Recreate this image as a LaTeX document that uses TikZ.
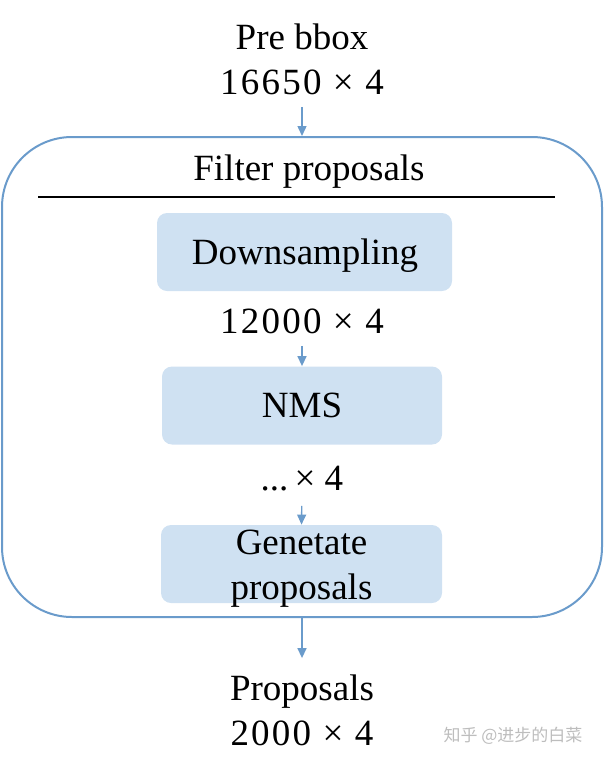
\documentclass[tikz,border=0pt]{standalone}
\usepackage{fontspec}
\setmainfont{Liberation Serif}
\newfontfamily\numfont[LetterSpace=6]{Liberation Serif}
\newfontfamily\cjkfont{Noto Sans CJK SC}
\usetikzlibrary{arrows.meta, positioning}
\definecolor{fpblue}{HTML}{6A9BCB}
\definecolor{fplight}{HTML}{CFE1F2}
\definecolor{fpmark}{HTML}{BDBDBD}

\begin{document}
\begin{tikzpicture}[x=0.5pt, y=-0.5pt,
  every node/.style={font=\fontsize{18.5}{22.5}\selectfont, inner sep=0pt, align=center},
  sizelabel/.style={font=\numfont\fontsize{18.5}{22.5}\selectfont},
  stepbox/.style={fill=fplight, rounded corners=5pt, minimum height=39pt},
  flow/.style={-{Triangle[width=4.5pt,length=5pt]}, fpblue, line width=0.7pt}]
  \useasboundingbox (0,0) rectangle (604,761);
  % input
  \node (pre) at (302,59) {Pre bbox\\{\numfont 16650 × 4}};
  % filter block
  \node[draw=fpblue, line width=1pt, rounded corners=35pt, minimum width=300pt, minimum height=240pt] (filter) at (302,377) {};
  \node (title) at (309,172) {Filter proposals};
  \draw[line width=0.6pt] (38,197) -- (555,197);
  % steps
  \node[stepbox, minimum width=147.5pt] (down) at (304.5,252) {};
  \node (downtext) at (305,256) {Downsampling};
  \node[sizelabel] (n1) at (302,321) {12000 × 4};
  \node[stepbox, minimum width=140pt] (nms) at (302,405.5) {NMS};
  \node (n2) at (302,479) {...\,× 4};
  \node[stepbox, minimum width=140.5pt] (gen) at (301.5,564) {};
  \node (gentext) at (301.5,569) {Genetate\\proposals};
  % output
  \node (prop) at (302,710) {Proposals\\{\numfont 2000 × 4}};
  % arrows
  \draw[flow, shorten <=6pt] (pre.south) -- (filter.north);
  \draw[flow, shorten <=6pt] (n1.south) -- (nms.north);
  \draw[flow, shorten <=7pt] (n2.south) -- (gen.north);
  \draw[flow, shorten >=8pt] (filter.south) -- (prop.north);
  \node[fpmark, font=\cjkfont\fontsize{8.5}{10}\selectfont] (mark) at (513,736) {知乎 @进步的白菜};
\end{tikzpicture}
\end{document}
